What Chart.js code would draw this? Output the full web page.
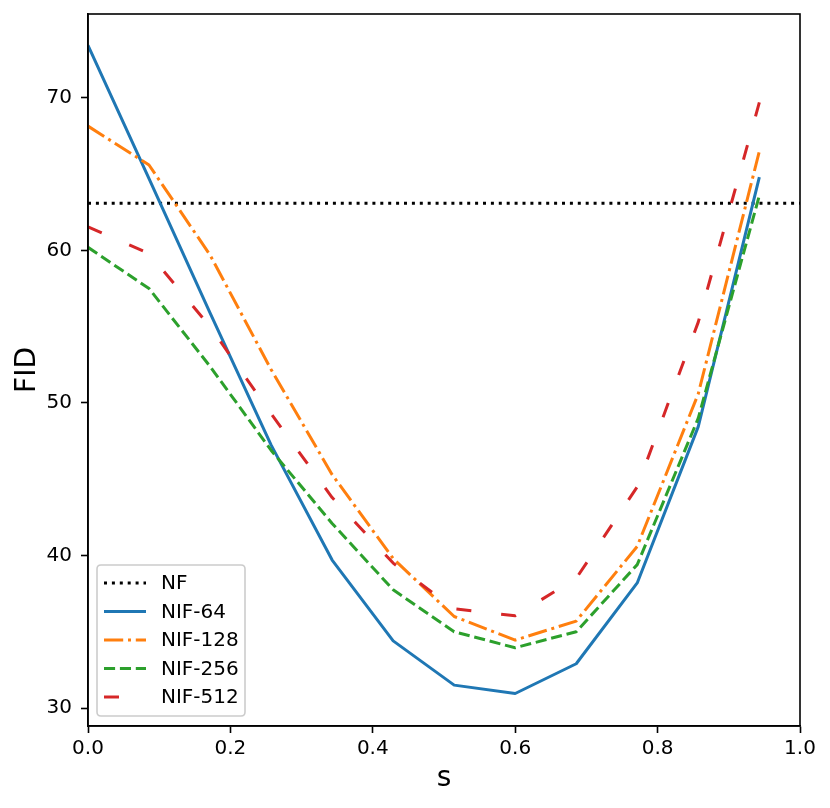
<!DOCTYPE html>
<html>
<head>
<meta charset="utf-8">
<script src="https://cdn.jsdelivr.net/npm/chart.js@4.4.0/dist/chart.umd.min.js"></script>
<style>
html,body{margin:0;padding:0;background:#fff;}
#wrap{width:830px;height:808px;}
</style>
</head>
<body>
<div id="wrap"><canvas id="c" width="830" height="808"></canvas></div>
<script>
// ---- data ----
const sValues = [0, 0.0857, 0.1714, 0.2571, 0.3429, 0.4286, 0.5143, 0.6, 0.6857, 0.7714, 0.8571, 0.9429];
const nfX = [0, 1];
const nfValues = [63.1, 63.1];
const nif64 = [73.45, 64.7, 55.9, 47.25, 39.7, 34.4, 31.5, 30.95, 32.9, 38.2, 48.45, 64.8];
const nif128 = [68.15, 65.6, 59.7, 52.2, 45.3, 39.8, 36.0, 34.45, 35.7, 40.6, 50.6, 66.5];
const nif256 = [60.2, 57.5, 52.4, 46.9, 42.1, 37.75, 35.0, 33.95, 35.0, 39.4, 49.0, 63.6];
const nif512 = [61.55, 59.8, 55.0, 49.3, 43.8, 39.5, 36.5, 36.05, 38.5, 44.5, 55.3, 69.7];
const xTicks = [0.0, 0.2, 0.4, 0.6, 0.8, 1.0];
const yTicks = [30, 40, 50, 60, 70];
const seriesNames = ['NF', 'NIF-64', 'NIF-128', 'NIF-256', 'NIF-512'];

const pts = (xs, ys) => xs.map((x, i) => ({x: x, y: ys[i]}));
const LW = 3;
const FONT = "'DejaVu Sans', sans-serif";

const datasets = [
  {label: seriesNames[0], data: pts(nfX, nfValues), borderColor: '#000000', borderDash: [3, 4.9], order: 4},
  {label: seriesNames[1], data: pts(sValues, nif64), borderColor: '#1f77b4', borderDash: [], order: 3},
  {label: seriesNames[2], data: pts(sValues, nif128), borderColor: '#ff7f0e', borderDash: [19.2, 4.8, 3, 4.8], order: 2},
  {label: seriesNames[3], data: pts(sValues, nif256), borderColor: '#2ca02c', borderDash: [11.1, 4.8], order: 1},
  {label: seriesNames[4], data: pts(sValues, nif512), borderColor: '#d62728', borderDash: [15, 30], order: 0}
].map(d => Object.assign({
  borderWidth: LW, pointRadius: 0, tension: 0, fill: false,
  borderCapStyle: 'butt', borderJoinStyle: 'round'
}, d));

const framePlugin = {
  id: 'frame',
  afterDatasetsDraw(chart) {
    const {ctx, chartArea: a} = chart;
    ctx.save();
    ctx.strokeStyle = '#000';
    ctx.lineWidth = 1.6;
    ctx.setLineDash([]);
    ctx.strokeRect(a.left, a.top, a.right - a.left, a.bottom - a.top);
    ctx.restore();
  }
};

const legendPlugin = {
  id: 'mplLegend',
  afterDraw(chart) {
    const {ctx, chartArea: a} = chart;
    const x0 = a.left + 9, y0 = a.bottom - 10 - 151, w = 148, h = 151;
    ctx.save();
    const r = 4;
    ctx.beginPath();
    ctx.moveTo(x0 + r, y0);
    ctx.lineTo(x0 + w - r, y0); ctx.quadraticCurveTo(x0 + w, y0, x0 + w, y0 + r);
    ctx.lineTo(x0 + w, y0 + h - r); ctx.quadraticCurveTo(x0 + w, y0 + h, x0 + w - r, y0 + h);
    ctx.lineTo(x0 + r, y0 + h); ctx.quadraticCurveTo(x0, y0 + h, x0, y0 + h - r);
    ctx.lineTo(x0, y0 + r); ctx.quadraticCurveTo(x0, y0, x0 + r, y0);
    ctx.closePath();
    ctx.fillStyle = 'rgba(255,255,255,0.8)';
    ctx.fill();
    ctx.strokeStyle = '#cccccc';
    ctx.lineWidth = 1.6;
    ctx.stroke();
    ctx.font = '20px ' + FONT;
    ctx.textBaseline = 'middle';
    ctx.textAlign = 'left';
    chart.data.datasets.forEach((ds, i) => {
      const cy = y0 + 18 + i * 28.5;
      ctx.beginPath();
      ctx.strokeStyle = ds.borderColor;
      ctx.lineWidth = LW;
      ctx.lineCap = 'butt';
      ctx.setLineDash(ds.borderDash);
      ctx.moveTo(x0 + 7, cy);
      ctx.lineTo(x0 + 49, cy);
      ctx.stroke();
      ctx.setLineDash([]);
      ctx.fillStyle = '#000';
      ctx.fillText(ds.label, x0 + 64, cy + 1);
    });
    ctx.restore();
  }
};

new Chart(document.getElementById('c'), {
  type: 'line',
  data: {datasets: datasets},
  options: {
    responsive: false,
    animation: false,
    devicePixelRatio: 1,
    layout: {padding: {top: 14, right: 30, left: 0, bottom: 0}},
    plugins: {legend: {display: false}, tooltip: {enabled: false}},
    scales: {
      x: {
        type: 'linear', min: 0, max: 1,
        afterFit(s) { s.height = 82; s.paddingLeft = 0; s.paddingRight = 0; },
        afterBuildTicks(s) { s.ticks = xTicks.map(v => ({value: v})); },
        grid: {display: true, drawOnChartArea: false, drawTicks: true, tickLength: 7, tickColor: '#000', tickWidth: 1.6},
        border: {display: true, color: '#000', width: 1.6},
        ticks: {color: '#000', font: {family: FONT, size: 20}, padding: 4, maxRotation: 0,
          callback: v => Number(v).toFixed(1)},
        title: {display: true, text: 's', color: '#000', font: {family: FONT, size: 28}, padding: {top: 0, bottom: 12}}
      },
      y: {
        type: 'linear', min: 28.82, max: 75.5,
        afterFit(s) { s.width = 88; s.paddingTop = 0; s.paddingBottom = 0; },
        afterBuildTicks(s) { s.ticks = yTicks.map(v => ({value: v})); },
        grid: {display: true, drawOnChartArea: false, drawTicks: true, tickLength: 7, tickColor: '#000', tickWidth: 1.6},
        border: {display: true, color: '#000', width: 1.6},
        ticks: {color: '#000', font: {family: FONT, size: 20}, padding: 9,
          callback: v => String(v)},
        title: {display: true, text: 'FID', color: '#000', font: {family: FONT, size: 28}, padding: {top: 11, bottom: 0}}
      }
    }
  },
  plugins: [framePlugin, legendPlugin]
});
</script>
</body>
</html>
